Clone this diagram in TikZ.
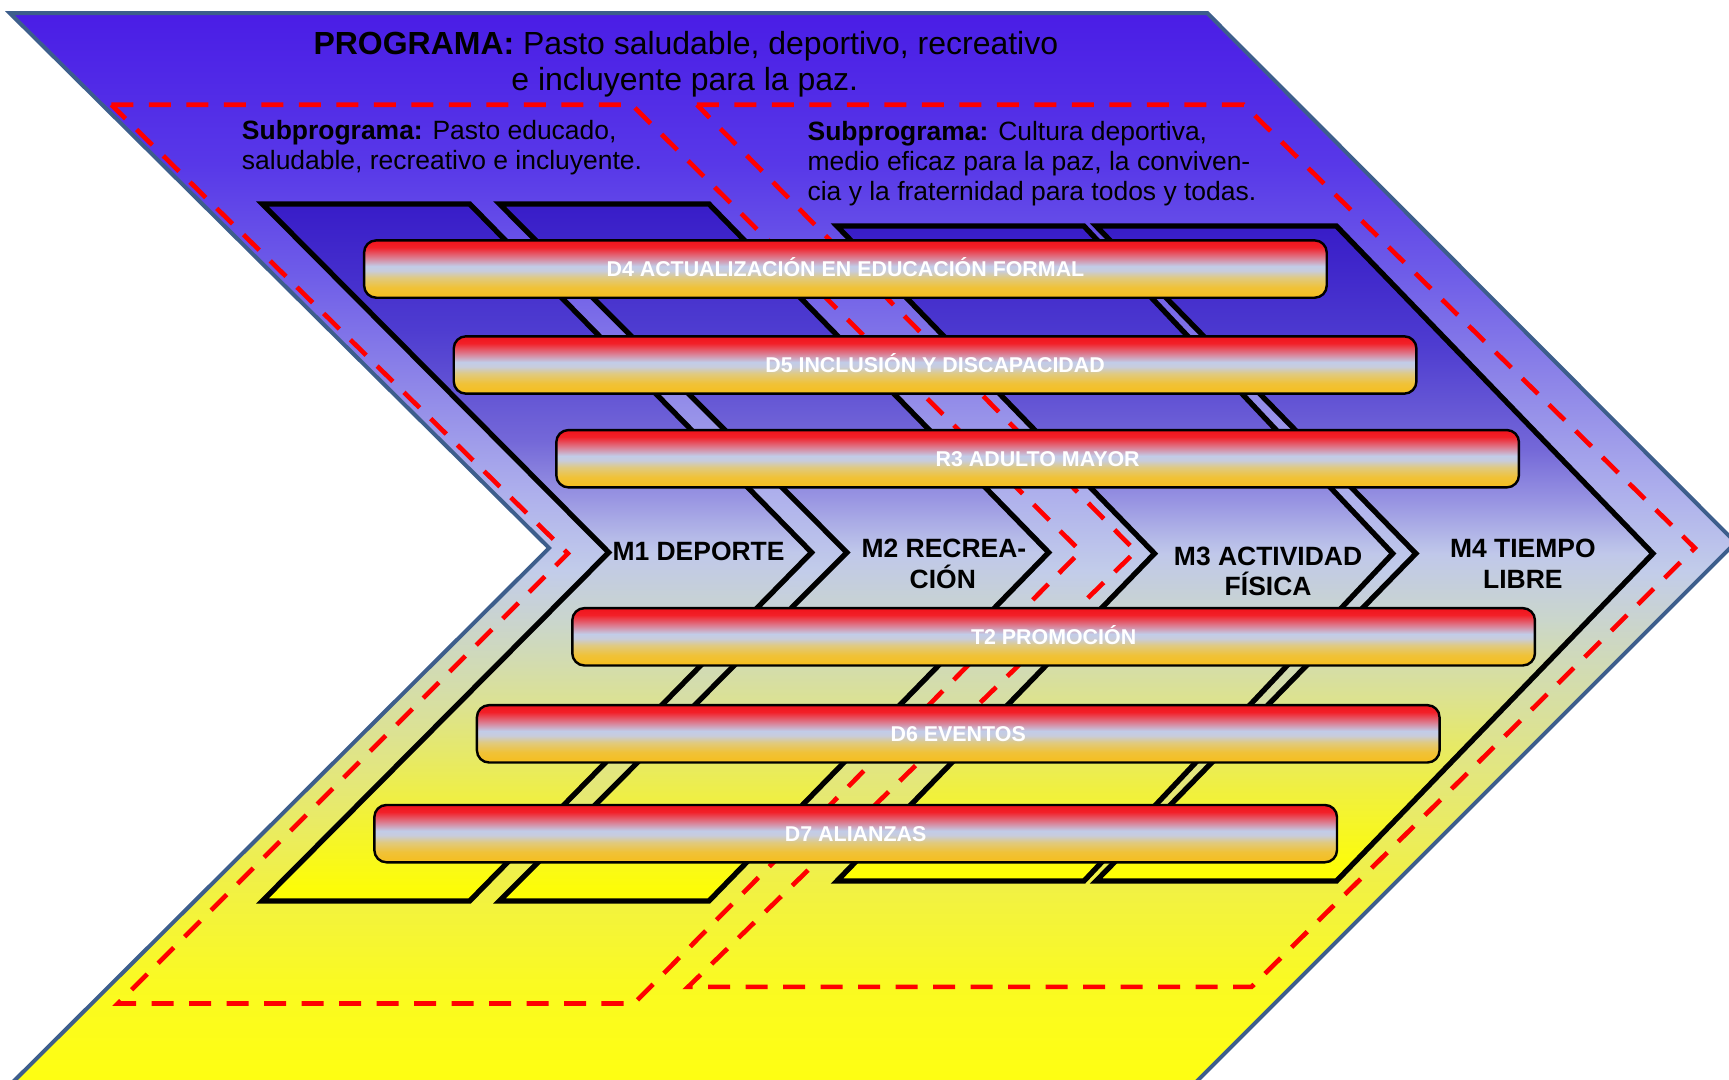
\documentclass[tikz,border=0pt]{standalone}
\usepackage{fontspec}
\setmainfont{Liberation Sans}
\definecolor{outline}{HTML}{3D5E8C}
\definecolor{dashred}{HTML}{FF0000}
% background
\definecolor{bgA}{HTML}{4A1DE6}
\definecolor{bgB}{HTML}{5838E8}
\definecolor{bgC}{HTML}{6E5CE8}
\definecolor{bgD}{HTML}{8E86E8}
\definecolor{bgE}{HTML}{AEB0EC}
\definecolor{bgF}{HTML}{C2CCEA}
\definecolor{bgG}{HTML}{D0DAB8}
\definecolor{bgH}{HTML}{E2E680}
\definecolor{bgI}{HTML}{F0F048}
\definecolor{bgJ}{HTML}{FAFA22}
\definecolor{bgK}{HTML}{FFFF10}
\pgfdeclareverticalshading{bgshade}{100bp}{color(0bp)=(bgK); color(25bp)=(bgK); color(30bp)=(bgJ); color(35bp)=(bgI); color(40bp)=(bgH); color(45bp)=(bgG); color(49.15bp)=(bgF); color(52.7bp)=(bgE); color(57.8bp)=(bgD); color(63bp)=(bgC); color(68bp)=(bgB); color(75bp)=(bgA); color(100bp)=(bgA)}
% chevrons
\definecolor{chA}{HTML}{381CC8}
\definecolor{chB}{HTML}{4E3CD0}
\definecolor{chC}{HTML}{7468D8}
\definecolor{chD}{HTML}{9894E2}
\definecolor{chE}{HTML}{C0C8EA}
\definecolor{chF}{HTML}{CAD6CC}
\definecolor{chG}{HTML}{DCE290}
\definecolor{chH}{HTML}{F0F040}
\definecolor{chI}{HTML}{FFFF00}
\pgfdeclareverticalshading{chevshade}{100bp}{color(0bp)=(chI); color(25bp)=(chI); color(32bp)=(chH); color(39bp)=(chG); color(45bp)=(chF); color(50bp)=(chE); color(54bp)=(chD); color(58bp)=(chC); color(66bp)=(chB); color(75bp)=(chA); color(100bp)=(chA)}
% capsules
\definecolor{cpA}{HTML}{F0141C}
\definecolor{cpB}{HTML}{F22028}
\definecolor{cpC}{HTML}{DC7C90}
\definecolor{cpD}{HTML}{C2CCE8}
\definecolor{cpE}{HTML}{C8CCDC}
\definecolor{cpF}{HTML}{E0CA80}
\definecolor{cpG}{HTML}{F0C238}
\definecolor{cpH}{HTML}{F6BE1C}
\pgfdeclareverticalshading{capshade}{100bp}{color(0bp)=(cpH); color(25bp)=(cpH); color(34bp)=(cpG); color(42.5bp)=(cpF); color(48.5bp)=(cpE); color(52.5bp)=(cpD); color(60bp)=(cpC); color(69bp)=(cpB); color(75bp)=(cpA); color(100bp)=(cpA)}
\begin{document}
\begin{tikzpicture}[x=0.5pt,y=-0.5pt,
  mchev/.style={draw=black, line width=2.4pt, line join=miter, shading=chevshade},
  region/.style={draw=dashred, line width=2.1pt, dash pattern=on 10pt off 7pt},
  capsule/.style={draw=black, line width=1.1pt, rounded corners=5.5pt, shading=capshade,
    minimum width=436.5pt, minimum height=26pt, inner sep=0pt, text=white,
    font=\bfseries\fontsize{9.7}{11}\selectfont, text height=7pt, text depth=0pt},
  progfont/.style={font=\fontsize{14.5}{17}\selectfont, inner sep=0pt, anchor=base},
  subfont/.style={font=\fontsize{12}{14}\selectfont, inner sep=0pt, anchor=base west},
  mlabel/.style={font=\bfseries\fontsize{12}{14}\selectfont, inner sep=0pt, anchor=base}]
\useasboundingbox (0,0) rectangle (1568,979);
\clip (0,0) rectangle (1568,979);
% outer chevron
\shadedraw[shading=bgshade, draw=outline, line width=1.8pt, line join=miter]
  (9,12) -- (1095,12) -- (1574,492) -- (1076,990) -- (3,990) -- (498,497) -- cycle;
% subprogram regions
\draw[region] (101,95) -- (573,95) -- (980,500) -- (575,910) -- (107,910) -- (515,502) -- cycle;
\draw[region] (632,95) -- (1128,95) -- (1537,497) -- (1135,895) -- (624,895) -- (1030,500) -- cycle;
% M chevrons
\shadedraw[mchev] (238,185) -- (426,185) -- (736,501) -- (426,817) -- (238,817) -- (552,501) -- cycle;
\shadedraw[mchev] (453,185) -- (643,185) -- (951,501) -- (643,817) -- (453,817) -- (768,501) -- cycle;
\shadedraw[mchev] (759,205) -- (983,205) -- (1263,502) -- (983,799) -- (759,799) -- (1047,502) -- cycle;
\shadedraw[mchev] (994,205) -- (1212,205) -- (1499,502) -- (1212,799) -- (994,799) -- (1284,502) -- cycle;
% capsules
\node[capsule] (d4) at (766.7,244) {D4 ACTUALIZACIÓN EN EDUCACIÓN FORMAL};
\node[capsule] (d5) at (848,331) {D5 INCLUSIÓN Y DISCAPACIDAD};
\node[capsule] (r3) at (941,416) {R3 ADULTO MAYOR};
\node[capsule] (t2) at (955.5,577.5) {T2 PROMOCIÓN};
\node[capsule] (d6) at (869,665.5) {D6 EVENTOS};
\node[capsule] (d7) at (776,756) {D7 ALIANZAS};
% M labels
\node[mlabel] (m1) at (633.5,508) {M1 DEPORTE};
\node[mlabel] (m2a) at (856,506) {M2 RECREA-};
\node[mlabel] (m2b) at (855,533.6) {CIÓN};
\node[mlabel] (m3a) at (1150,512.5) {M3 ACTIVIDAD};
\node[mlabel] (m3b) at (1150,539.7) {FÍSICA};
\node[mlabel] (m4a) at (1381,506) {M4 TIEMPO};
\node[mlabel] (m4b) at (1381,533.6) {LIBRE};
% titles
\node[progfont] (prog1) at (622,49) {\textbf{PROGRAMA:} Pasto saludable, deportivo, recreativo};
\node[progfont] (prog2) at (621,82) {e incluyente para la paz.};
\node[subfont] (sa1) at (219,126.4) {\textbf{Subprograma:} Pasto educado,};
\node[subfont] (sa2) at (219,153.6) {saludable, recreativo e incluyente.};
\node[subfont] (sb1) at (732,127) {\textbf{Subprograma:} Cultura deportiva,};
\node[subfont] (sb2) at (732,154.3) {medio eficaz para la paz, la conviven-};
\node[subfont] (sb3) at (732,181.5) {cia y la fraternidad para todos y todas.};
\end{tikzpicture}
\end{document}
